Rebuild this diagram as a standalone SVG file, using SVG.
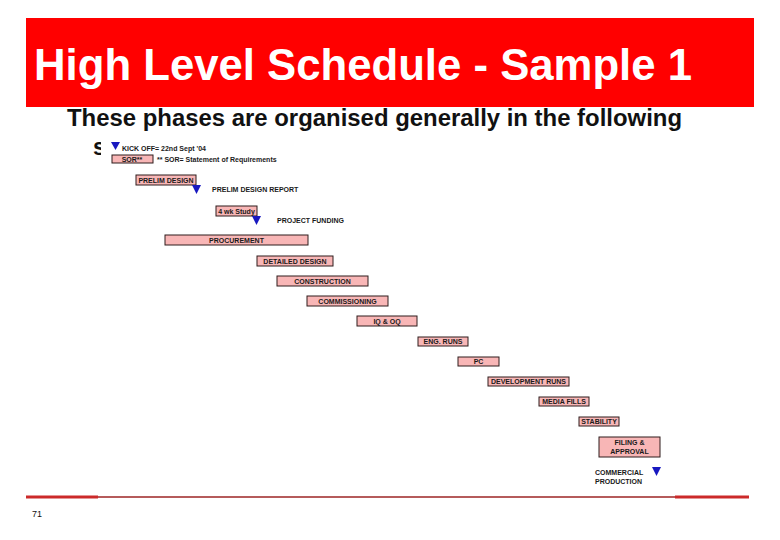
<svg xmlns="http://www.w3.org/2000/svg" width="780" height="540" viewBox="0 0 780 540">
<style>
.bar{fill:#f8b6b6;stroke:#2e1c1c;stroke-width:1}
.lbl{font-family:"Liberation Sans",Arial,sans-serif;font-weight:bold;font-size:7px;fill:#1a1a1a;text-anchor:middle}
.ann{font-family:"Liberation Sans",Arial,sans-serif;font-weight:bold;font-size:7px;fill:#1a1a1a}
.ms{fill:#1818c0}
</style>
<rect width="780" height="540" fill="#ffffff"/>
<g id="header">
<rect x="26" y="18" width="728" height="89" fill="#ff0000"/>
<text x="34" y="80" font-family="Liberation Sans, Arial, sans-serif" font-weight="bold" font-size="44" fill="#ffffff" textLength="658" lengthAdjust="spacingAndGlyphs">High Level Schedule - Sample 1</text>
</g>
<g id="subtitle">
<text x="67" y="126" font-family="Liberation Sans, Arial, sans-serif" font-weight="bold" font-size="23" fill="#111111" textLength="615" lengthAdjust="spacingAndGlyphs">These phases are organised generally in the following</text>
<text x="93" y="155" font-family="Liberation Sans, Arial, sans-serif" font-weight="bold" font-size="23" fill="#111111">s</text>
</g>
<rect x="101" y="136" width="580" height="352" fill="#ffffff"/>
<g id="kickoff">
<polygon class="ms" points="111,142 120,142 115.5,150"/>
<text class="ann" x="122" y="151">KICK OFF= 22nd Sept '04</text>
</g>
<g id="sor">
<rect class="bar" x="112" y="155" width="41" height="8"/>
<text class="lbl" x="132" y="161.5">SOR**</text>
<text class="ann" x="157" y="162">** SOR= Statement of Requirements</text>
</g>
<g id="prelim-design">
<rect class="bar" x="136" y="175" width="60" height="10"/>
<text class="lbl" x="166" y="182.5">PRELIM DESIGN</text>
</g>
<g id="prelim-design-report">
<polygon class="ms" points="192,185 201,185 196.5,194"/>
<text class="ann" x="212" y="192">PRELIM DESIGN REPORT</text>
</g>
<g id="study">
<rect class="bar" x="216" y="206" width="41" height="10"/>
<text class="lbl" x="236.5" y="213.5">4 wk Study</text>
</g>
<g id="project-funding">
<polygon class="ms" points="252,216 261,216 256.5,225"/>
<text class="ann" x="277" y="223">PROJECT FUNDING</text>
</g>
<g id="procurement">
<rect class="bar" x="165" y="235" width="143" height="10"/>
<text class="lbl" x="236.5" y="242.5">PROCUREMENT</text>
</g>
<g id="detailed-design">
<rect class="bar" x="257" y="256" width="76" height="10"/>
<text class="lbl" x="295" y="263.5">DETAILED DESIGN</text>
</g>
<g id="construction">
<rect class="bar" x="277" y="276" width="91" height="10"/>
<text class="lbl" x="322.5" y="283.5">CONSTRUCTION</text>
</g>
<g id="commissioning">
<rect class="bar" x="307" y="296" width="81" height="10"/>
<text class="lbl" x="347.5" y="303.5">COMMISSIONING</text>
</g>
<g id="iq-oq">
<rect class="bar" x="357" y="316" width="60" height="10"/>
<text class="lbl" x="387" y="323.5">IQ &amp; OQ</text>
</g>
<g id="eng-runs">
<rect class="bar" x="418" y="337" width="50" height="9"/>
<text class="lbl" x="443" y="344">ENG. RUNS</text>
</g>
<g id="pc">
<rect class="bar" x="458" y="357" width="41" height="9"/>
<text class="lbl" x="478.5" y="364">PC</text>
</g>
<g id="development-runs">
<rect class="bar" x="488" y="377" width="81" height="9"/>
<text class="lbl" x="528.5" y="384">DEVELOPMENT RUNS</text>
</g>
<g id="media-fills">
<rect class="bar" x="539" y="397" width="50" height="9"/>
<text class="lbl" x="564" y="404">MEDIA FILLS</text>
</g>
<g id="stability">
<rect class="bar" x="579" y="417" width="40" height="9"/>
<text class="lbl" x="599" y="424">STABILITY</text>
</g>
<g id="filing-approval">
<rect class="bar" x="599" y="437" width="61" height="20"/>
<text class="lbl" x="629.5" y="445">FILING &amp;</text>
<text class="lbl" x="629.5" y="454">APPROVAL</text>
</g>
<g id="commercial-production">
<text class="ann" x="595" y="475">COMMERCIAL</text>
<text class="ann" x="595" y="484">PRODUCTION</text>
<polygon class="ms" points="652,467 661,467 656.5,476"/>
</g>
<g id="footer">
<line x1="26" y1="497" x2="749" y2="497" stroke="#9c2424" stroke-width="1.5"/>
<line x1="26" y1="497" x2="98" y2="497" stroke="#cc2a2a" stroke-width="3"/>
<line x1="675" y1="497" x2="749" y2="497" stroke="#cc2a2a" stroke-width="3"/>
<text x="32" y="517" font-family="Liberation Sans, Arial, sans-serif" font-size="9" fill="#111111">71</text>
</g>
</svg>
